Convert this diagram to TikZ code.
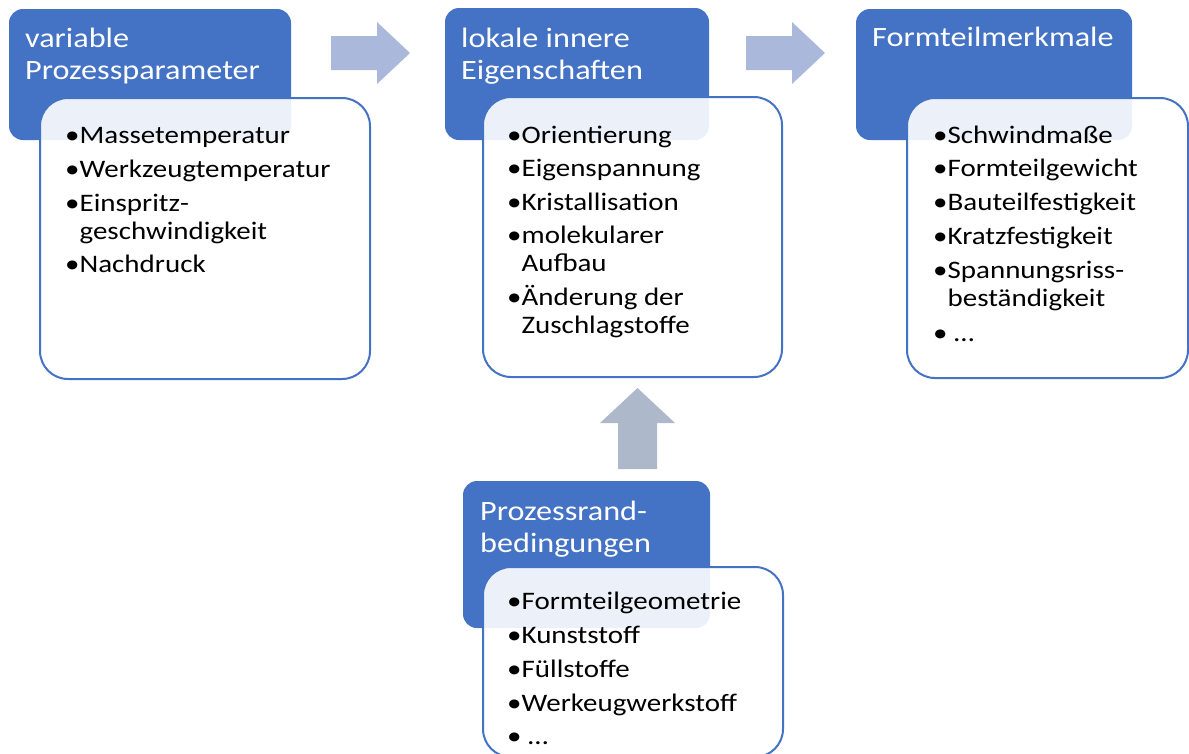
\documentclass[tikz,border=0pt]{standalone}
\usepackage{fontspec}
\setmainfont{Carlito}[FakeStretch=1.15]
\definecolor{hdr}{HTML}{4472C4}
\definecolor{arr}{HTML}{AAB8DC}
\definecolor{arrg}{HTML}{ADB9CA}
\newcommand{\lines}[1]{\begin{tabular}[t]{@{}l@{}}#1\end{tabular}}
\tikzset{
 hdrbox/.style={fill=hdr, rounded corners=14pt, draw=none, inner sep=0pt, outer sep=0pt, anchor=north west},
 bodybox/.style={fill=white, fill opacity=0.9, draw=hdr, draw opacity=1, line width=2pt, rounded corners=28pt, inner sep=0pt, outer sep=0pt, anchor=north west},
 hdrtext/.style={text=white, font=\fontsize{28}{32}\selectfont, anchor=base west, inner sep=0pt},
 listtext/.style={text=black, font=\fontsize{25.2}{28}\selectfont, anchor=base west, inner sep=0pt},
}
\begin{document}
\begin{tikzpicture}[x=1pt,y=-1pt]
\useasboundingbox (0,0) rectangle (1189,753);
\clip (0,0) rectangle (1189,753);
% headers
\node[hdrbox, minimum width=282pt, minimum height=131pt] (h1) at (9,9) {};
\node[hdrbox, minimum width=264pt, minimum height=132pt] (h2) at (445,8) {};
\node[hdrbox, minimum width=276pt, minimum height=131pt] (h3) at (856,9) {};
\node[hdrbox, minimum width=247pt, minimum height=147pt] (h4) at (463,481) {};
% bodies
\node[bodybox, minimum width=330pt, minimum height=281pt] (b1) at (40,98) {};
\node[bodybox, minimum width=299pt, minimum height=280pt] (b2) at (483,97) {};
\node[bodybox, minimum width=281pt, minimum height=280pt] (b3) at (907,98) {};
\node[bodybox, minimum width=300pt, minimum height=190pt] (b4) at (483,567) {};
% arrows
\fill[arr] (331,36) -- (377,36) -- (377,22) -- (410,53) -- (377,84) -- (377,70) -- (331,70) -- cycle;
\fill[arr] (746,36) -- (792,36) -- (792,22) -- (825,53) -- (792,84) -- (792,70) -- (746,70) -- cycle;
\fill[arrg] (618,469) -- (618,423) -- (600,423) -- (637.5,388) -- (675,423) -- (657,423) -- (657,469) -- cycle;
% header texts
\node[hdrtext] (ht1) at (25,47) {\lines{variable\\Prozessparameter}};
\node[hdrtext] (ht2) at (461,47) {\lines{lokale innere\\Eigenschaften}};
\node[hdrtext] (ht3) at (872,46) {\lines{Formteilmerkmale}};
\node[hdrtext] (ht4) at (480,520) {\lines{Prozessrand-\\bedingungen}};
% list texts
\node[listtext] (l1) at (65,143) {\lines{•Massetemperatur\\[6pt]
 •Werkzeugtemperatur\\[6pt]
 •Einspritz-\\
 \phantom{•}geschwindigkeit\\[5pt]
 •Nachdruck}};
\node[listtext] (l2) at (507,143) {\lines{•Orientierung\\[5pt]
 •Eigenspannung\\[6pt]
 •Kristallisation\\[5pt]
 •molekularer\\
 \phantom{•}Aufbau\\[6pt]
 •Änderung der\\
 \phantom{•}Zuschlagstoffe}};
\node[listtext] (l3) at (933,143) {\lines{•Schwindmaße\\[5pt]
 •Formteilgewicht\\[6pt]
 •Bauteilfestigkeit\\[6pt]
 •Kratzfestigkeit\\[6pt]
 •Spannungsriss-\\
 \phantom{•}beständigkeit\\[7pt]
 • …}};
\node[listtext] (l4) at (507,609) {\lines{•Formteilgeometrie\\[6pt]
 •Kunststoff\\[6pt]
 •Füllstoffe\\[6pt]
 •Werkeugwerkstoff\\[5pt]
 • …}};
\end{tikzpicture}
\end{document}
